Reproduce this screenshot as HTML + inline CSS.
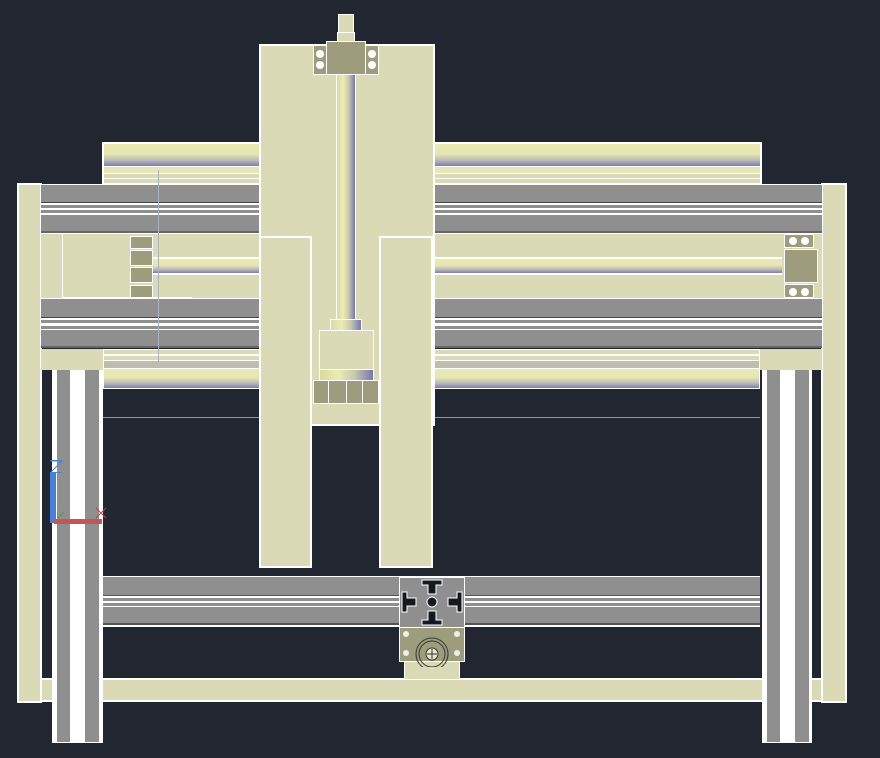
<!DOCTYPE html>
<html><head><meta charset="utf-8"><style>
html,body{margin:0;padding:0}
body{width:880px;height:758px;background:#212630;position:relative;overflow:hidden;font-family:"Liberation Sans",sans-serif}
div{position:absolute;box-sizing:border-box}
.b{background:#dadab6;border:2px solid #fff}
.g{background:#8f8f8f}
.ol{background:#9d9d7d;border:1px solid #fff}
.rodh{background:linear-gradient(#eaeab0,#e6e6b4 45%,#b9b9b8 75%,#7d7dae)}
.rodv{background:linear-gradient(90deg,#dada9e,#ececb4 35%,#c8c8b0 65%,#7676ae)}
.w{background:#fff}
.dot{width:8px;height:8px;border-radius:50%;background:#fff}
</style></head><body>
<div style="left:102px;top:142px;width:660px;height:42px;background:#fff"></div>
<div class="rodh" style="left:104px;top:144px;width:656px;height:22px"></div>
<div style="left:104px;top:167px;width:656px;height:6px;background:#e6e6b8"></div>
<div style="left:104px;top:174px;width:656px;height:4px;background:#dadab6"></div>
<div style="left:104px;top:179px;width:656px;height:4px;background:#dadab6"></div>
<div class="b" style="left:17px;top:183px;width:25px;height:520px"></div>
<div class="b" style="left:821px;top:183px;width:26px;height:520px"></div>
<div style="left:41px;top:184px;width:781px;height:50px;background:#fff"></div>
<div class="g" style="left:41px;top:185px;width:781px;height:18px;border-bottom:1px solid #444"></div>
<div class="g" style="left:41px;top:205px;width:781px;height:3px"></div>
<div class="g" style="left:41px;top:210px;width:781px;height:3px"></div>
<div class="g" style="left:41px;top:215px;width:781px;height:18px;border-bottom:2px solid #666"></div>
<div style="left:41px;top:234px;width:781px;height:65px;background:#dadab6"></div>
<div class="rodh" style="left:152px;top:257px;width:630px;height:18px;border-top:2px solid #fff;border-bottom:2px solid #fff"></div>
<div class="b" style="left:40px;top:233px;width:23px;height:67px;border-width:1px"></div>
<div style="left:62px;top:297px;width:130px;height:2px;background:#fff"></div>
<div class="ol" style="left:130px;top:236px;width:23px;height:13px"></div>
<div class="ol" style="left:130px;top:250px;width:23px;height:16px"></div>
<div class="ol" style="left:130px;top:267px;width:23px;height:16px"></div>
<div class="ol" style="left:130px;top:285px;width:23px;height:13px"></div>
<div class="ol" style="left:784px;top:234px;width:30px;height:14px"></div>
<div class="ol" style="left:784px;top:249px;width:34px;height:34px"></div>
<div class="ol" style="left:784px;top:284px;width:30px;height:14px"></div>
<div class="dot" style="left:789px;top:237px"></div><div class="dot" style="left:801px;top:237px"></div>
<div class="dot" style="left:789px;top:288px"></div><div class="dot" style="left:801px;top:288px"></div>
<div style="left:41px;top:298px;width:781px;height:50px;background:#fff"></div>
<div class="g" style="left:41px;top:299px;width:781px;height:19px;border-bottom:1px solid #444"></div>
<div class="g" style="left:41px;top:320px;width:781px;height:3px"></div>
<div class="g" style="left:41px;top:326px;width:781px;height:3px"></div>
<div class="g" style="left:41px;top:330px;width:781px;height:18px;border-bottom:2px solid #666"></div>
<div style="left:41px;top:349px;width:62px;height:21px;background:#dadab6"></div>
<div style="left:760px;top:349px;width:62px;height:21px;background:#dadab6"></div>
<div style="left:103px;top:349px;width:657px;height:40px;background:#fff"></div>
<div style="left:104px;top:350px;width:655px;height:4px;background:#dadab6"></div>
<div style="left:104px;top:356px;width:655px;height:4px;background:#dadab6"></div>
<div style="left:104px;top:361px;width:655px;height:7px;background:#bebeb0"></div>
<div class="rodh" style="left:104px;top:369px;width:655px;height:19px"></div>
<div style="left:158px;top:170px;width:1px;height:192px;background:#a8b4c0"></div>
<div style="left:103px;top:417px;width:657px;height:1px;background:#8e98a4"></div>
<div class="b" style="left:40px;top:678px;width:783px;height:24px"></div>
<div style="left:103px;top:576px;width:657px;height:51px;background:#fff"></div>
<div class="g" style="left:103px;top:577px;width:657px;height:19px;border-bottom:1px solid #555"></div>
<div class="g" style="left:103px;top:598px;width:657px;height:3px"></div>
<div class="g" style="left:103px;top:603px;width:657px;height:3px"></div>
<div class="g" style="left:103px;top:607px;width:657px;height:18px;border-bottom:2px solid #555"></div>
<div class="w" style="left:52px;top:370px;width:51px;height:373px"></div>
<div class="g" style="left:57px;top:370px;width:13px;height:372px"></div>
<div class="g" style="left:85px;top:370px;width:14px;height:372px"></div>
<div class="w" style="left:762px;top:370px;width:50px;height:373px"></div>
<div class="g" style="left:767px;top:370px;width:13px;height:372px"></div>
<div class="g" style="left:795px;top:370px;width:14px;height:372px"></div>
<div style="left:399px;top:577px;width:66px;height:51px;background:#8f8f8f;border:1px solid #fff"></div>
<svg style="position:absolute;left:399px;top:577px" width="66" height="51">
<g fill="#15181e" stroke="#fff" stroke-width="1">
<path d="M23 3h20v5h-6v9h-8v-9h-6z"/><path d="M23 48h20v-5h-6v-9h-8v9h-6z"/>
<path d="M3 15v20h5v-6h9v-8h-9v-6z"/><path d="M63 15v20h-5v-6h-9v-8h9v-6z"/>
<circle cx="33" cy="25" r="5"/></g></svg>
<div style="left:399px;top:627px;width:66px;height:35px;background:#9d9d7d;border:1px solid #fff"></div>
<div class="b" style="left:404px;top:661px;width:56px;height:19px;border-width:1px"></div>
<svg style="position:absolute;left:399px;top:627px" width="66" height="40">
<g fill="#eee"><circle cx="7" cy="7" r="3"/><circle cx="58" cy="7" r="3"/><circle cx="7" cy="26" r="3"/><circle cx="58" cy="26" r="3"/></g>
<circle cx="33" cy="27" r="16" fill="none" stroke="#333" stroke-width="1"/>
<circle cx="33" cy="27" r="13" fill="none" stroke="#333" stroke-width="1"/>
<circle cx="33" cy="27" r="6" fill="#e6e6c8" stroke="#333"/>
<path d="M33 22v10M28 27h10" stroke="#333"/></svg>
<div class="b" style="left:259px;top:44px;width:176px;height:382px"></div>
<div class="b" style="left:259px;top:236px;width:53px;height:332px"></div>
<div class="b" style="left:379px;top:236px;width:54px;height:332px"></div>
<div class="rodv" style="left:336px;top:74px;width:20px;height:258px;border-left:1px solid #fff;border-right:1px solid #fff"></div>
<div class="b" style="left:338px;top:14px;width:16px;height:20px;border-width:1px"></div>
<div class="b" style="left:337px;top:32px;width:18px;height:10px;border-width:1px"></div>
<div class="ol" style="left:313px;top:45px;width:14px;height:30px"></div>
<div class="ol" style="left:365px;top:45px;width:14px;height:30px"></div>
<div class="ol" style="left:326px;top:41px;width:40px;height:34px"></div>
<div class="dot" style="left:316px;top:50px"></div><div class="dot" style="left:316px;top:61px"></div>
<div class="dot" style="left:368px;top:50px"></div><div class="dot" style="left:368px;top:61px"></div>
<div class="rodv" style="left:330px;top:319px;width:32px;height:12px;border:1px solid #fff"></div>
<div class="b" style="left:319px;top:330px;width:55px;height:40px;border-width:1px"></div>
<div class="rodv" style="left:319px;top:369px;width:55px;height:12px;border:1px solid #fff"></div>
<div class="ol" style="left:313px;top:380px;width:66px;height:24px"></div>
<div style="left:328px;top:380px;width:1px;height:24px;background:#fff"></div>
<div style="left:346px;top:380px;width:1px;height:24px;background:#fff"></div>
<div style="left:362px;top:380px;width:1px;height:24px;background:#fff"></div>
<div style="left:50px;top:473px;width:6px;height:50px;background:#4a7fd6"></div>
<div style="left:54px;top:519px;width:48px;height:5px;background:#c05858"></div>
<div style="left:50px;top:460px;width:12px;height:1px;background:#4a7fd6"></div>
<div style="left:50px;top:472px;width:12px;height:1px;background:#4a7fd6"></div>
<svg style="position:absolute;left:50px;top:458px" width="60" height="70"><path d="M1 3h11L1 14" stroke="#4a7fd6" fill="none"/><path d="M46 50l10 10M56 50l-10 10" stroke="#c04040"/><path d="M8 60l6-6" stroke="#3a3"/></svg>
</body></html>
